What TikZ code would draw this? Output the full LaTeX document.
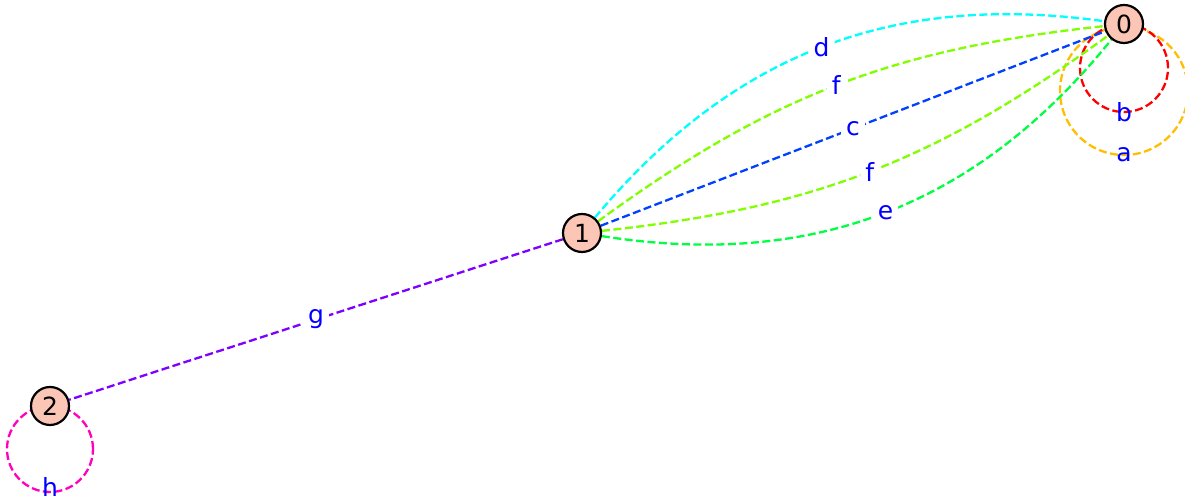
\documentclass[tikz,border=0pt]{standalone}
\usepackage{fontspec}
\setmainfont{DejaVu Sans}
\usetikzlibrary{backgrounds}
\definecolor{nodefill}{HTML}{FBC6B5}
\definecolor{lblblue}{HTML}{0000FF}
\definecolor{ecola}{HTML}{FFBF00}
\definecolor{ecolb}{HTML}{FF0000}
\definecolor{ecolc}{HTML}{0040FF}
\definecolor{ecold}{HTML}{00FFFF}
\definecolor{ecole}{HTML}{00FF40}
\definecolor{ecolf}{HTML}{80FF00}
\definecolor{ecolg}{HTML}{8000FF}
\definecolor{ecolh}{HTML}{FF00BF}

\begin{document}
\begin{tikzpicture}[
    x=1pt, y=1pt,
    vtx/.style={circle, draw=black, line width=2.2pt, fill=nodefill,
      minimum size=38pt, inner sep=0pt, font=\fontsize{25}{30}\selectfont},
    edge/.style={dashed, dash pattern=on 8pt off 3.5pt, line width=2.3pt},
    elbl/.style={fill=white, rounded corners=4pt, inner sep=5pt, text=lblblue,
      font=\fontsize{25}{30}\selectfont},
    looplbl/.style={inner sep=0pt, text=lblblue, font=\fontsize{25}{30}\selectfont},
  ]
    \useasboundingbox (0,0) rectangle (1185,502);

    % ===== vertices =====
    \node[vtx] (n0) at (1124, 478) {0};
    \node[vtx] (n1) at (582, 269) {1};
    \node[vtx] (n2) at (50, 96) {2};

    \begin{pgfonlayer}{background}
    % ===== self loops =====
    \draw[edge, ecola] ([yshift=-67pt]n0.center) circle[radius=64pt];
    \draw[edge, ecolb] ([yshift=-44pt]n0.center) circle[radius=44pt];
    \draw[edge, ecolh] ([yshift=-43pt]n2.center) circle[radius=43pt];

    % ===== edges between 1 and 0 =====
    \draw[edge, ecold] (n1) to[bend left=29] node[elbl] {d} (n0);
    \draw[edge, ecolf] (n1) to[bend left=15] node[elbl] {f} (n0);
    \draw[edge, ecolc] (n1) -- node[elbl] {c} (n0);
    \draw[edge, ecolf] (n1) to[bend right=15] node[elbl] {f} (n0);
    \draw[edge, ecole] (n1) to[bend right=30] node[elbl] {e} (n0);

    % edge 1 -- 2
    \draw[edge, ecolg] (n1) -- node[elbl] {g} (n2);
    \end{pgfonlayer}

    % loop labels
    \node[looplbl] (la) at ([yshift=-131pt]n0.center) {a};
    \node[looplbl] (lb) at ([yshift=-88pt]n0.center) {b};
    \node[looplbl] (lh) at ([yshift=-81pt]n2.center) {h};
\end{tikzpicture}
\end{document}
